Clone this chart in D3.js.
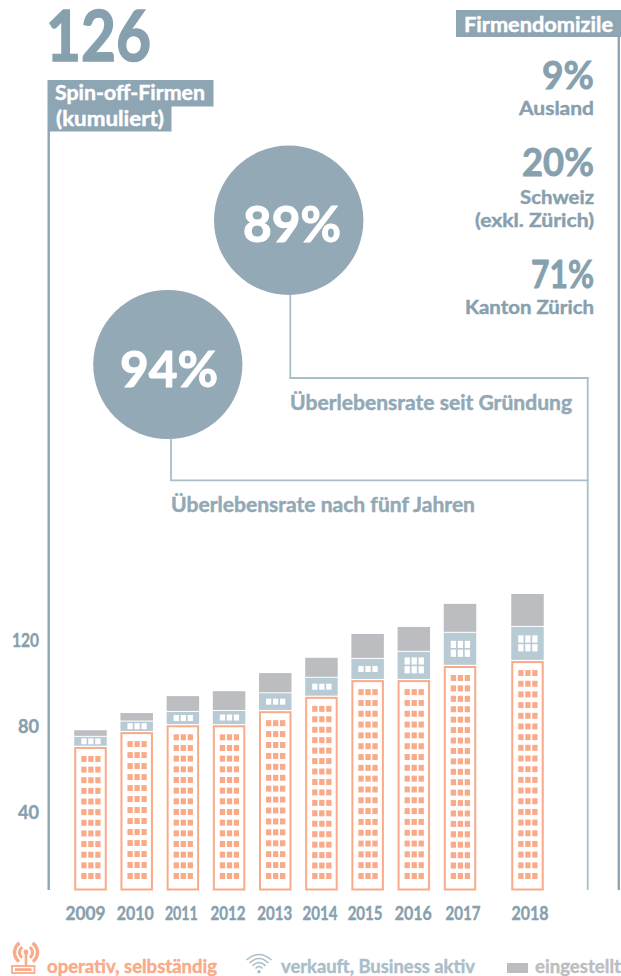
<!DOCTYPE html>
<html lang="de">
<head>
<meta charset="utf-8">
<title>Spin-off-Firmen</title>
<script src="https://cdn.jsdelivr.net/npm/d3@7"></script>
<style>
  html, body { margin: 0; padding: 0; background: #fff; overflow: hidden; }
  svg { display: block; }
  text { font-family: "Lato", "Noto Sans", sans-serif; font-weight: 700; }
</style>
</head>
<body>
<div id="chart"></div>
<script>
// --- Daten ---
const years = [2009, 2010, 2011, 2012, 2013, 2014, 2015, 2016, 2017, 2018];
const operativ = [61, 67.3, 70.2, 70.2, 76.2, 82.3, 89.4, 89.4, 95.4, 97.5];
const verkauft = [4.3, 4.5, 5.7, 6.1, 7.6, 8.1, 9, 12, 14.1, 14.5];
const eingestellt = [2.8, 3.6, 6.7, 8.4, 8.6, 8.5, 10.6, 10.6, 12.3, 14];
const axisTicks = [40, 80, 120];
const axisTickWidth = [21, 21, 27];
const yearLabelShift = [-5.5, -2, -2, -1.5, -1, -2, -3, -1, 2.5, 2];
const yearLabelWidth = [40, 37, 33, 35, 35, 35, 35, 37, 35, 37];

const domizilPct = ["9%", "20%", "71%"];
const domizilPctWidth = [52, 72, 63];
const domizilNames = [["Ausland"], ["Schweiz", "(exkl. Zürich)"], ["Kanton Zürich"]];
const domizilNameWidth = [[75], [74, 119], [129]];

const W = 621, H = 976;
const colText = "#87a0ae", colBox = "#8ea5b3", colCircle = "#93a9b6", colLine = "#a9bec9";
const colOrange = "#f9aa88", colBlue = "#b8cad3", colGray = "#bcbdc1";

const svg = d3.select("#chart").append("svg").attr("width", W).attr("height", H);

// Balken und Achsenbeschriftung haben im Original nicht den gleichen Massstab
const x = d3.scaleLinear().domain([2009, 2017, 2018]).range([90.5, 460, 527.5]);
const y = d3.scaleLinear().domain([0, 126]).range([890.5, 594]);
const yAxisScale = d3.scaleLinear().domain([40, 120]).range([812, 640]);
const barW = 32.5;

// Lato Bold ist etwas dünner als das Original, daher eine feine Kontur
function txt(str, px, py, size, fill, anchor, width) {
    const t = svg.append("text")
        .attr("x", px).attr("y", py)
        .attr("font-size", size)
        .attr("fill", fill)
        .attr("stroke", fill)
        .attr("stroke-width", size * 0.022)
        .attr("text-anchor", anchor || "start")
        .text(str);
    if (width) t.attr("textLength", width).attr("lengthAdjust", "spacingAndGlyphs");
    return t;
}

function vline(px, y1, y2, color, w) {
    svg.append("line").attr("x1", px).attr("x2", px).attr("y1", y1).attr("y2", y2)
        .attr("stroke", color).attr("stroke-width", w);
}

function hline(x1, x2, py, color, w) {
    svg.append("line").attr("x1", x1).attr("x2", x2).attr("y1", py).attr("y2", py)
        .attr("stroke", color).attr("stroke-width", w);
}

// 1. Kopf links
txt("126", 46, 61, 71, colText, "start", 105);
svg.append("rect").attr("x", 47.5).attr("y", 80).attr("width", 166).attr("height", 26.5).attr("fill", colBox);
svg.append("rect").attr("x", 47.5).attr("y", 106).attr("width", 124).attr("height", 25.5).attr("fill", colBox);
txt("Spin-off-Firmen", 55, 100, 20, "#fff", "start", 150);
txt("(kumuliert)", 56, 126, 20, "#fff", "start", 108);
vline(48.7, 131, 890, colBox, 2.4);

// 2. Kopf rechts
svg.append("rect").attr("x", 456).attr("y", 10).attr("width", 165).attr("height", 27).attr("fill", colBox);
txt("Firmendomizile", 464, 32, 20, "#fff", "start", 149);
vline(618.8, 37, 890, colBox, 2.4);

const pctBase = [89, 176, 287.5];
const nameBase = [[114.5], [203.5, 226.5], [313.5]];
domizilPct.forEach((p, i) => {
    txt(p, 594, pctBase[i], 39, colText, "end", domizilPctWidth[i]);
    domizilNames[i].forEach((n, j) => txt(n, 594, nameBase[i][j], 19.5, colText, "end", domizilNameWidth[i][j]));
});

// 3. Verbindungslinien und Kreise
vline(290.3, 295, 378.8, colLine, 1.8);
hline(289.4, 588.5, 378, colLine, 1.8);
vline(171, 439, 481.1, colLine, 1.8);
hline(170.1, 588.5, 480.3, colLine, 1.8);
vline(587.7, 377.1, 890, colLine, 1.8);

svg.append("circle").attr("cx", 288.7).attr("cy", 220.3).attr("r", 74.7).attr("fill", colCircle);
svg.append("circle").attr("cx", 167.8).attr("cy", 364.5).attr("r", 74.6).attr("fill", colCircle);
txt("89%", 243, 241.7, 50, "#fff", "start", 98);
txt("94%", 120, 386.7, 50, "#fff", "start", 98);
txt("Überlebensrate seit Gründung", 290, 409.5, 21.5, colText, "start", 282).attr("opacity", 0.9);
txt("Überlebensrate nach fünf Jahren", 171, 511.5, 21.5, colText, "start", 304).attr("opacity", 0.9);

// 4. Balken (Häuser)
const bars = svg.selectAll(".bar")
    .data(years.map((year, i) => ({ year, op: operativ[i], ver: verkauft[i], ein: eingestellt[i] })))
    .enter().append("g")
    .attr("class", "bar")
    .attr("transform", d => `translate(${x(d.year) - barW / 2},0)`);

bars.append("rect")
    .attr("x", 1).attr("width", barW - 2)
    .attr("y", d => y(d.op) + 1)
    .attr("height", d => y(0) - y(d.op) - 2)
    .attr("fill", "#fff")
    .attr("stroke", colOrange).attr("stroke-width", 2);

bars.append("rect")
    .attr("width", barW)
    .attr("y", d => y(d.op + d.ver))
    .attr("height", d => y(d.op) - y(d.op + d.ver) - 1.2)
    .attr("fill", colBlue);

bars.append("rect")
    .attr("width", barW)
    .attr("y", d => y(d.op + d.ver + d.ein))
    .attr("height", d => y(d.op + d.ver) - y(d.op + d.ver + d.ein) - 1)
    .attr("fill", colGray);

const lastRowTop = 873;
const colX = [7, 14, 21];

bars.each(function(d) {
    const g = d3.select(this);

    // Fenster im orangen Teil
    const first = y(d.op) + 9;
    const n = Math.round((lastRowTop - first) / 10.7);
    const step = (lastRowTop - first) / n;
    d3.range(n + 1).forEach(r => {
        colX.forEach(cx => {
            g.append("rect").attr("x", cx).attr("y", first + r * step)
                .attr("width", 5.3).attr("height", 6).attr("fill", colOrange);
        });
    });

    // Fenster im blauen Teil: eine oder zwei Reihen
    const top = y(d.op + d.ver), bottom = y(d.op) - 1.2;
    const mid = (top + bottom) / 2;
    const rows = bottom - top > 24 ? [mid - 8, mid + 0.8] : [mid - 3];
    const wh = rows.length > 1 ? 7.2 : 6;
    rows.forEach(ry => {
        colX.forEach(cx => {
            g.append("rect").attr("x", cx).attr("y", ry)
                .attr("width", 5.3).attr("height", wh).attr("fill", "#fff");
        });
    });
});

// 5. Achsen
const yAxisG = svg.append("g")
    .attr("transform", "translate(39,0)")
    .call(d3.axisLeft(yAxisScale).tickValues(axisTicks).tickSize(0).tickPadding(0));
yAxisG.select(".domain").remove();
yAxisG.selectAll("text").attr("font-size", 18.5).attr("fill", colText)
    .attr("stroke", colText).attr("stroke-width", 0.4)
    .attr("font-family", null).attr("dy", "0.37em").attr("x", 0)
    .attr("textLength", (d, i) => axisTickWidth[i]).attr("lengthAdjust", "spacingAndGlyphs");

const xAxisG = svg.append("g")
    .attr("transform", "translate(0,905)")
    .call(d3.axisBottom(x).tickValues(years).tickFormat(d3.format("d")).tickSize(0).tickPadding(0));
xAxisG.select(".domain").remove();
xAxisG.selectAll("text").attr("font-size", 18.5).attr("fill", colText)
    .attr("stroke", colText).attr("stroke-width", 0.4)
    .attr("font-family", null)
    .attr("dx", (d, i) => yearLabelShift[i])
    .attr("y", 15).attr("dy", 0)
    .attr("textLength", (d, i) => yearLabelWidth[i]).attr("lengthAdjust", "spacingAndGlyphs");

// 6. Legende
const arc = d3.arc();
const icon1 = svg.append("g").attr("fill", "none").attr("stroke", colOrange);
icon1.append("rect").attr("x", 12).attr("y", 966).attr("width", 22.5).attr("height", 7).attr("stroke-width", 1.8);
icon1.append("rect").attr("x", 15).attr("y", 968.2).attr("width", 16.5).attr("height", 2.8)
    .attr("fill", colOrange).attr("stroke", "none");
vline(26, 953, 966, colOrange, 2.6);
svg.append("circle").attr("cx", 26).attr("cy", 952).attr("r", 2.4).attr("fill", colOrange);
[[6.5, 3], [11.5, 3.4]].forEach(([r, w]) => {
    [[0.6, 2.5], [-2.5, -0.6]].forEach(([a0, a1]) => {
        svg.append("path").attr("transform", "translate(26,952.5)")
            .attr("d", arc({ innerRadius: r - w / 2, outerRadius: r + w / 2, startAngle: a0, endAngle: a1 }))
            .attr("fill", colOrange);
    });
});
txt("operativ, selbständig", 47, 973, 18.5, colOrange, "start", 170);

// WLAN-Symbol: halbe Breite, Scheitel und Fusspunkt je Bogen
[[12.5, 954.5, 960], [9.5, 958.5, 963], [6.5, 962.5, 966], [3.5, 966.5, 968.5]].forEach(([hw, apex, foot]) => {
    const p = d3.path();
    p.moveTo(259 - hw, foot);
    p.quadraticCurveTo(259, 2 * apex - foot, 259 + hw, foot);
    svg.append("path").attr("d", p.toString()).attr("fill", "none")
        .attr("stroke", colLine).attr("stroke-width", 1.5);
});
svg.append("circle").attr("cx", 259).attr("cy", 971.8).attr("r", 1.8).attr("fill", colLine);
txt("verkauft, Business aktiv", 281, 973, 18.5, colLine, "start", 194);

svg.append("rect").attr("x", 507).attr("y", 963).attr("width", 21).attr("height", 10).attr("fill", colGray);
txt("eingestellt", 535, 973, 18.5, colGray, "start", 86);
</script>
</body>
</html>
